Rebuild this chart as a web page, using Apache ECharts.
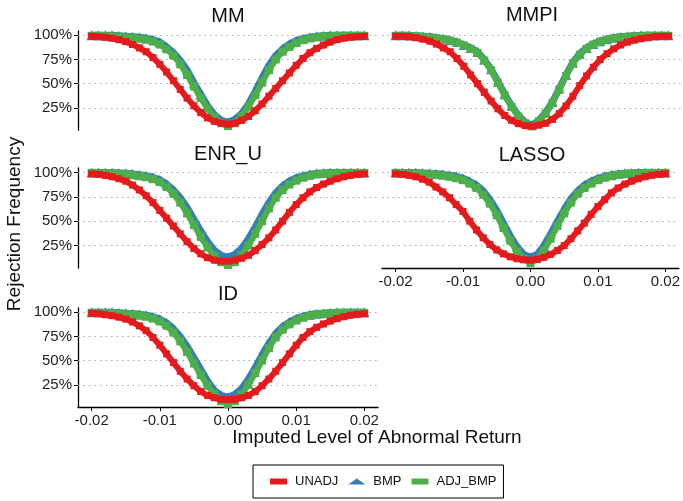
<!DOCTYPE html>
<html>
<head>
<meta charset="utf-8">
<script src="https://cdn.jsdelivr.net/npm/echarts@6/dist/echarts.min.js"></script>
<style>html,body{margin:0;padding:0;background:#fff}#c{width:683px;height:501px}</style>
</head>
<body>
<div id="c"></div>
<script>
// Abnormal return levels (x)
const xValues = [-0.020,-0.019,-0.018,-0.017,-0.016,-0.015,-0.014,-0.013,-0.012,-0.011,-0.010,-0.009,-0.008,-0.007,-0.006,-0.005,-0.004,-0.003,-0.002,-0.001,0.000,0.001,0.002,0.003,0.004,0.005,0.006,0.007,0.008,0.009,0.010,0.011,0.012,0.013,0.014,0.015,0.016,0.017,0.018,0.019,0.020];
const xTicks = [-0.02,-0.01,0,0.01,0.02];
const yTicks = [0.25,0.5,0.75,1];
const panelNames = ['MM','MMPI','ENR_U','LASSO','ID'];
const seriesNames = ['UNADJ','BMP','ADJ_BMP'];

const MM_UNADJ = [0.99,0.985,0.98,0.97,0.955,0.935,0.905,0.87,0.83,0.77,0.70,0.62,0.53,0.44,0.35,0.27,0.20,0.145,0.11,0.09,0.08,0.09,0.12,0.16,0.22,0.29,0.37,0.45,0.53,0.61,0.69,0.76,0.82,0.865,0.90,0.93,0.955,0.97,0.98,0.985,0.99];
const MM_BMP = [1.0,1.0,1.0,1.0,0.995,0.99,0.985,0.98,0.97,0.955,0.93,0.88,0.82,0.74,0.64,0.51,0.39,0.27,0.18,0.12,0.10,0.13,0.19,0.29,0.42,0.56,0.69,0.79,0.86,0.91,0.945,0.965,0.98,0.99,0.995,1.0,1.0,1.0,1.0,1.0,1.0];
const MM_ADJ_BMP = [0.995,0.995,0.99,0.99,0.985,0.98,0.975,0.965,0.955,0.935,0.905,0.855,0.79,0.70,0.59,0.47,0.35,0.24,0.15,0.09,0.06,0.09,0.16,0.26,0.38,0.51,0.64,0.75,0.83,0.88,0.92,0.95,0.97,0.98,0.99,0.99,0.995,0.995,0.995,0.995,0.995];

const MMPI_UNADJ = [0.99,0.99,0.985,0.975,0.96,0.94,0.91,0.87,0.83,0.76,0.68,0.59,0.50,0.41,0.32,0.24,0.17,0.12,0.085,0.065,0.06,0.07,0.09,0.13,0.19,0.27,0.37,0.48,0.58,0.67,0.75,0.81,0.86,0.90,0.93,0.95,0.965,0.975,0.985,0.99,0.99];
const MMPI_BMP = [1.0,1.0,1.0,0.995,0.99,0.985,0.975,0.965,0.95,0.93,0.90,0.87,0.83,0.75,0.65,0.52,0.39,0.27,0.17,0.10,0.07,0.12,0.20,0.31,0.45,0.59,0.72,0.81,0.87,0.91,0.94,0.96,0.975,0.985,0.99,0.995,1.0,1.0,1.0,1.0,1.0];
const MMPI_ADJ_BMP = [0.995,0.995,0.99,0.99,0.985,0.98,0.97,0.96,0.945,0.925,0.895,0.86,0.82,0.74,0.64,0.51,0.38,0.26,0.16,0.09,0.06,0.11,0.19,0.30,0.44,0.58,0.71,0.80,0.86,0.905,0.935,0.955,0.97,0.98,0.985,0.99,0.99,0.995,0.995,0.995,0.995];

const ENR_U_UNADJ = [0.985,0.98,0.97,0.955,0.935,0.91,0.87,0.82,0.76,0.69,0.61,0.53,0.45,0.37,0.29,0.22,0.165,0.125,0.10,0.09,0.09,0.10,0.12,0.15,0.20,0.26,0.33,0.41,0.50,0.59,0.67,0.74,0.80,0.845,0.88,0.91,0.935,0.955,0.97,0.98,0.985];
const ENR_U_BMP = [1.0,1.0,1.0,1.0,0.995,0.99,0.985,0.975,0.965,0.95,0.925,0.88,0.82,0.74,0.64,0.52,0.40,0.29,0.20,0.15,0.13,0.16,0.22,0.32,0.44,0.57,0.69,0.79,0.86,0.91,0.945,0.965,0.98,0.99,0.995,1.0,1.0,1.0,1.0,1.0,1.0];
const ENR_U_ADJ_BMP = [0.995,0.995,0.99,0.99,0.985,0.98,0.97,0.96,0.95,0.93,0.90,0.85,0.78,0.69,0.58,0.46,0.34,0.23,0.14,0.08,0.05,0.08,0.15,0.25,0.37,0.50,0.63,0.74,0.82,0.875,0.915,0.945,0.965,0.98,0.985,0.99,0.995,0.995,0.995,0.995,0.995];

const LASSO_UNADJ = [0.985,0.98,0.97,0.955,0.93,0.90,0.85,0.80,0.74,0.67,0.60,0.50,0.41,0.33,0.26,0.205,0.165,0.135,0.115,0.105,0.10,0.11,0.13,0.16,0.20,0.25,0.32,0.40,0.48,0.57,0.65,0.72,0.79,0.84,0.88,0.91,0.935,0.955,0.97,0.98,0.985];
const LASSO_BMP = [1.0,1.0,1.0,1.0,0.995,0.99,0.985,0.98,0.97,0.96,0.94,0.91,0.87,0.81,0.72,0.61,0.48,0.35,0.24,0.16,0.13,0.16,0.25,0.37,0.50,0.62,0.73,0.81,0.87,0.91,0.94,0.96,0.975,0.985,0.99,0.995,1.0,1.0,1.0,1.0,1.0];
const LASSO_ADJ_BMP = [0.995,0.995,0.99,0.99,0.985,0.98,0.975,0.965,0.955,0.94,0.92,0.885,0.84,0.77,0.68,0.56,0.43,0.30,0.19,0.11,0.07,0.11,0.20,0.32,0.45,0.58,0.69,0.78,0.84,0.885,0.92,0.945,0.96,0.975,0.985,0.99,0.99,0.995,0.995,0.995,0.995];

const ID_UNADJ = [0.99,0.985,0.975,0.965,0.95,0.93,0.90,0.86,0.81,0.74,0.66,0.57,0.48,0.39,0.31,0.24,0.18,0.14,0.115,0.10,0.095,0.10,0.115,0.14,0.18,0.24,0.31,0.39,0.48,0.57,0.66,0.74,0.80,0.845,0.88,0.91,0.935,0.955,0.97,0.98,0.985];
const ID_BMP = [1.0,1.0,1.0,1.0,0.995,0.99,0.985,0.98,0.97,0.955,0.93,0.89,0.83,0.75,0.65,0.53,0.41,0.29,0.19,0.14,0.12,0.15,0.21,0.31,0.43,0.56,0.68,0.78,0.85,0.90,0.935,0.96,0.975,0.985,0.99,0.995,1.0,1.0,1.0,1.0,1.0];
const ID_ADJ_BMP = [0.995,0.995,0.99,0.99,0.985,0.98,0.975,0.965,0.955,0.935,0.905,0.86,0.79,0.70,0.59,0.47,0.35,0.24,0.15,0.08,0.05,0.08,0.15,0.25,0.37,0.50,0.63,0.74,0.82,0.875,0.915,0.945,0.965,0.98,0.985,0.99,0.995,0.995,0.995,0.995,0.995];

const panelData = {
  MM: {UNADJ: MM_UNADJ, BMP: MM_BMP, ADJ_BMP: MM_ADJ_BMP},
  MMPI: {UNADJ: MMPI_UNADJ, BMP: MMPI_BMP, ADJ_BMP: MMPI_ADJ_BMP},
  ENR_U: {UNADJ: ENR_U_UNADJ, BMP: ENR_U_BMP, ADJ_BMP: ENR_U_ADJ_BMP},
  LASSO: {UNADJ: LASSO_UNADJ, BMP: LASSO_BMP, ADJ_BMP: LASSO_ADJ_BMP},
  ID: {UNADJ: ID_UNADJ, BMP: ID_BMP, ADJ_BMP: ID_ADJ_BMP}
};

const FONT = '"Liberation Sans", Arial, Helvetica, sans-serif';
const colors = {UNADJ: '#E41A1C', BMP: '#377EB8', ADJ_BMP: '#4DAF4A'};
const symbols = {UNADJ: 'rect', BMP: 'triangle', ADJ_BMP: 'rect'};
const symSizes = {UNADJ: 7, BMP: 10, ADJ_BMP: 8};
const lineWidths = {UNADJ: 6, BMP: 7, ADJ_BMP: 6};

const layout = [
  {left: 78, top: 31, height: 99, yAx: true, xAx: false, ty: 16},
  {left: 382, top: 31, height: 99, yAx: false, xAx: false, ty: 15},
  {left: 78, top: 168, height: 100, yAx: true, xAx: false, ty: 154},
  {left: 382, top: 168, height: 100, yAx: false, xAx: true, ty: 155},
  {left: 78, top: 308, height: 99, yAx: true, xAx: true, ty: 294}
];
const W = 300;

const grids = [], xAxes = [], yAxes = [], series = [], graphics = [];
panelNames.forEach((p, i) => {
  const L = layout[i];
  grids.push({left: L.left, top: L.top, width: W, height: L.height, containLabel: false});
  xAxes.push({
    type: 'value', gridIndex: i, min: -0.022, max: 0.022,
    axisLine: {show: L.xAx, onZero: false, lineStyle: {color: '#000', width: 1.3}},
    axisTick: {show: L.xAx, length: 4, customValues: xTicks, lineStyle: {color: '#000', width: 1}},
    axisLabel: {show: L.xAx, customValues: xTicks, margin: 6, fontSize: 15, color: '#222', fontFamily: FONT,
      formatter: v => v.toFixed(2)},
    splitLine: {show: false}
  });
  yAxes.push({
    type: 'value', gridIndex: i, min: 0.02, max: 1.045,
    axisLine: {show: L.yAx, onZero: false, lineStyle: {color: '#000', width: 1.3}},
    axisTick: {show: L.yAx, length: 4, customValues: yTicks, lineStyle: {color: '#000', width: 1}},
    axisLabel: {show: L.yAx, customValues: yTicks, margin: 6, fontSize: 15, color: '#222', fontFamily: FONT,
      formatter: v => Math.round(v * 100) + '%'},
    splitLine: {show: false}
  });
  ['BMP', 'ADJ_BMP', 'UNADJ'].forEach((s, k) => {
    const vals = panelData[p][s];
    const ser = {
      name: s, type: 'line', xAxisIndex: i, yAxisIndex: i,
      data: xValues.map((x, j) => [x, vals[j]]),
      symbol: symbols[s], symbolSize: symSizes[s], showSymbol: true,
      lineStyle: {color: colors[s], width: lineWidths[s]},
      itemStyle: {color: colors[s]},
      emphasis: {disabled: true}, silent: true, z: 2 + k
    };
    if (k === 0) {
      ser.markLine = {
        silent: true, symbol: 'none', z: 1, animation: false,
        label: {show: false},
        lineStyle: {type: [1.5, 4], color: '#a8a8a8', width: 1.2},
        emphasis: {disabled: true},
        data: yTicks.map(v => ({yAxis: v}))
      };
    }
    series.push(ser);
  });
  graphics.push({type: 'text', x: L.left + W / 2, y: L.ty, silent: true,
    style: {text: p, fontSize: 20, fontFamily: FONT, fill: '#111', textAlign: 'center', textVerticalAlign: 'middle'}});
});

graphics.push({type: 'text', x: 377, y: 438, silent: true,
  style: {text: 'Imputed Level of Abnormal Return', fontSize: 19, fontFamily: FONT, fill: '#111', textAlign: 'center', textVerticalAlign: 'middle'}});
graphics.push({type: 'text', x: 15, y: 224, rotation: Math.PI / 2, silent: true,
  style: {text: 'Rejection Frequency', fontSize: 19, fontFamily: FONT, fill: '#111', textAlign: 'center', textVerticalAlign: 'middle'}});

const chart = echarts.init(document.getElementById('c'), null, {renderer: 'canvas'});
chart.setOption({
  backgroundColor: '#fff',
  animation: false,
  grid: grids, xAxis: xAxes, yAxis: yAxes, series: series,
  graphic: graphics,
  legend: {
    left: 253, top: 465, orient: 'horizontal',
    borderColor: '#000', borderWidth: 1, padding: [10, 7, 10, 17],
    itemGap: 10, itemWidth: 17, itemHeight: 6,
    textStyle: {fontSize: 13, color: '#111', fontFamily: FONT, padding: [0, 0, 0, 3]},
    data: [{name: 'UNADJ', icon: 'rect'}, {name: 'BMP', icon: 'triangle'}, {name: 'ADJ_BMP', icon: 'rect'}],
    selectedMode: false
  }
});
</script>
</body>
</html>
